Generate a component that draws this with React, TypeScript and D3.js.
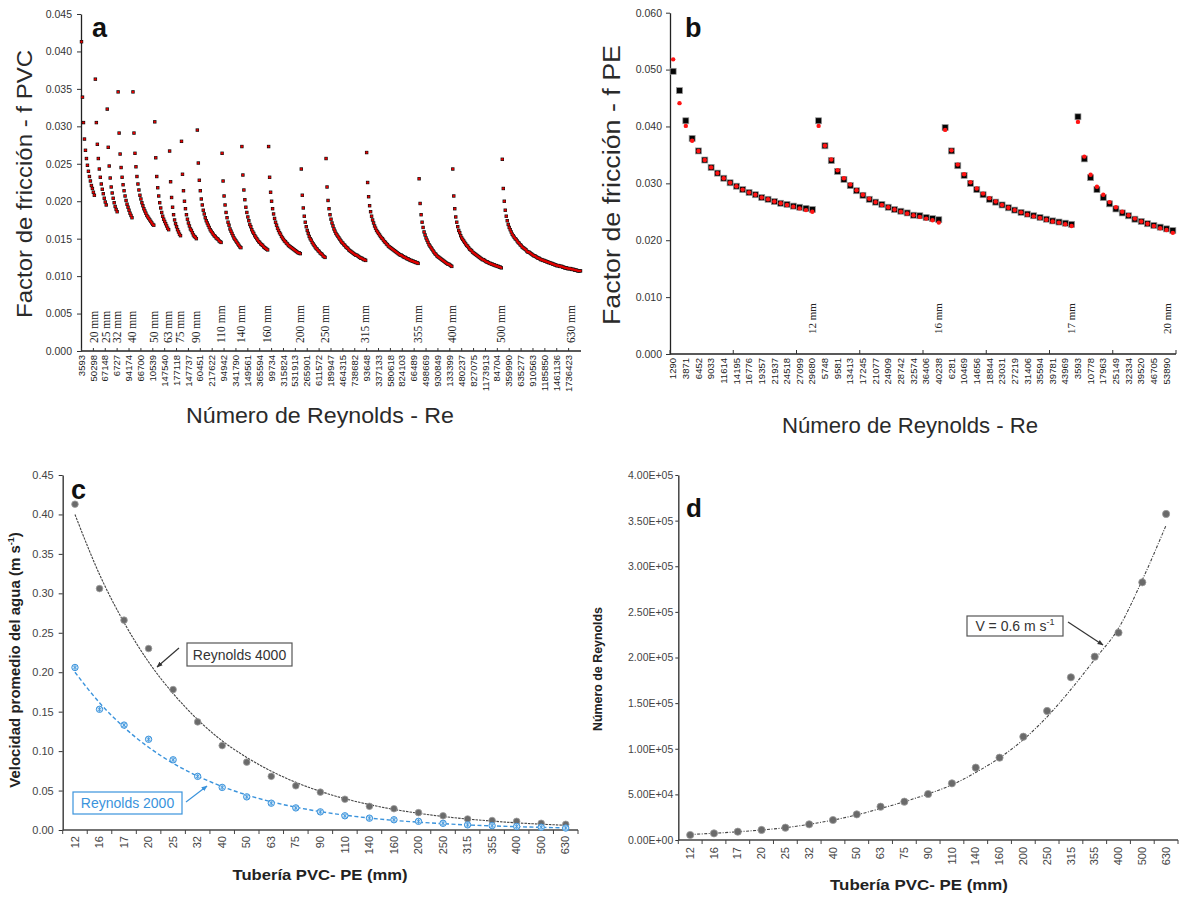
import React, { useEffect, useRef } from 'react';
import * as d3 from 'd3';

const W = 1183;
const H = 897;
const sans = '"Liberation Sans", Arial, sans-serif';
const serif = '"Liberation Serif", "Times New Roman", serif';

// ---- a: factor de friccion PVC (x 1e-4), one list per pipe, in plotting order
const pvcPipes = ['20 mm', '25 mm', '32 mm', '40 mm', '50 mm', '63 mm', '75 mm', '90 mm', '110 mm', '140 mm', '160 mm', '200 mm', '250 mm', '315 mm', '355 mm', '400 mm', '500 mm', '630 mm'];
const fPVC = [
  [413, 339, 305, 283, 268, 257, 248, 240, 233, 227, 221, 217, 212, 208],
  [363, 305, 276, 257, 243, 232, 223, 216, 210, 204, 199, 195],
  [323, 272, 247, 231, 219, 211, 204, 198, 193, 189, 186],
  [346, 291, 263, 245, 232, 222, 214, 207, 201, 196, 192, 188, 184, 181, 178],
  [346, 291, 264, 246, 233, 223, 215, 208, 203, 198, 194, 190, 187, 184, 181, 179, 177, 175, 173, 171, 169, 168],
  [306, 258, 233, 218, 207, 198, 191, 185, 180, 176, 173, 170, 167, 164, 162],
  [267, 226, 205, 192, 182, 175, 170, 166, 162, 159, 156, 154],
  [280, 236, 214, 200, 190, 182, 176, 171, 167, 163, 161, 158, 155, 153, 152, 150],
  [295, 251, 228, 214, 203, 195, 188, 183, 178, 174, 171, 168, 165, 162, 160, 158, 156, 154, 153, 151, 150, 149, 147, 146, 145],
  [264, 227, 207, 195, 185, 178, 172, 168, 163, 160, 157, 154, 151, 149, 147, 145, 143, 141, 139, 138],
  [273, 235, 215, 202, 192, 185, 179, 174, 169, 166, 162, 159, 157, 154, 152, 150, 148, 146, 145, 143, 142, 141, 139, 138, 137, 136, 135],
  [273, 232, 212, 200, 190, 183, 177, 172, 168, 164, 161, 158, 156, 153, 151, 149, 147, 146, 144, 143, 141, 140, 139, 138, 137, 136, 135, 134, 133, 132, 131, 131, 130],
  [243, 208, 191, 180, 172, 166, 161, 157, 153, 150, 148, 145, 143, 141, 139, 137, 136, 134, 133, 131, 130, 129, 127, 126, 125],
  [257, 219, 201, 190, 182, 176, 171, 167, 163, 160, 157, 155, 153, 151, 149, 147, 145, 144, 142, 141, 139, 138, 137, 135, 134, 133, 132, 131, 130, 129, 128, 128, 127, 126, 125, 124, 124, 123, 122, 122, 121],
  [265, 225, 206, 194, 186, 180, 175, 171, 167, 164, 161, 159, 157, 155, 153, 151, 150, 148, 146, 145, 143, 142, 140, 139, 138, 137, 136, 135, 134, 133, 132, 131, 130, 129, 128, 128, 127, 126, 125, 125, 124, 123, 123, 122, 121, 121, 120, 120, 119, 119, 118, 118, 117],
  [230, 197, 182, 172, 165, 159, 155, 151, 148, 145, 142, 140, 138, 136, 134, 132, 130, 129, 127, 126, 125, 124, 123, 122, 121, 120, 119, 118, 117, 116, 116, 115, 114, 113],
  [243, 207, 190, 179, 172, 166, 161, 158, 154, 151, 149, 147, 145, 143, 141, 140, 138, 136, 135, 134, 132, 131, 130, 129, 128, 127, 126, 125, 124, 123, 122, 122, 121, 120, 119, 119, 118, 117, 117, 116, 116, 115, 115, 114, 114, 113, 113, 112, 112, 111],
  [256, 217, 200, 188, 180, 174, 169, 165, 162, 159, 156, 154, 152, 150, 149, 147, 145, 144, 142, 141, 139, 138, 137, 136, 135, 133, 132, 132, 131, 130, 129, 128, 127, 127, 126, 125, 124, 124, 123, 122, 122, 121, 121, 120, 120, 119, 119, 118, 118, 117, 117, 116, 116, 115, 115, 114, 114, 114, 113, 113, 113, 112, 112, 111, 111, 111, 110, 110, 110, 110, 109, 109, 109, 108, 108, 108, 107, 107, 107, 107]
];
const reLabelsPVC = ['3593', '50298', '67148', '6727', '94174', '66700', '10539', '147540', '177118', '147737', '60451', '217622', '94942', '341790', '149561', '365594', '99734', '315824', '531913', '265901', '611572', '189947', '464315', '738682', '93648', '337133', '580618', '824103', '66489', '498669', '930849', '133399', '480237', '827075', '1173913', '84704', '359990', '635277', '910563', '1185850', '1461136', '1736423'];

// ---- b: factor de friccion PE (x 1e-4), squares and dots
const pePipes = ['12 mm', '16 mm', '17 mm', '20 mm'];
const fPEsq = [
  [497, 463, 410, 379, 357, 341, 328, 318, 309, 301, 295, 289, 284, 280, 275, 272, 268, 265, 263, 260, 258, 256, 254],
  [410, 366, 340, 321, 307, 296, 287, 279, 272, 267, 263, 258, 254, 251, 248, 244, 243, 240, 238, 236],
  [398, 357, 331, 314, 300, 289, 280, 272, 267, 262, 257, 253, 249, 246, 243, 240, 237, 234, 232, 230, 228],
  [417, 343, 310, 289, 275, 264, 255, 248, 243, 237, 233, 229, 226, 223, 220, 217]
];
const fPEdot = [
  [518, 441, 401, 375, 357, 341, 328, 318, 309, 301, 295, 289, 284, 280, 275, 272, 268, 265, 262, 259, 256, 253, 250],
  [401, 366, 342, 323, 309, 298, 288, 280, 273, 267, 262, 258, 254, 250, 247, 244, 241, 238, 235, 231],
  [394, 358, 333, 316, 302, 291, 282, 274, 268, 262, 257, 253, 249, 245, 242, 239, 236, 233, 231, 228, 225],
  [408, 347, 315, 294, 280, 267, 258, 250, 244, 238, 233, 229, 225, 221, 218, 213]
];
const reLabelsPE = ['1290', '3871', '6452', '9033', '11614', '14195', '16776', '19357', '21937', '24518', '27099', '29680', '5748', '9581', '13413', '17245', '21077', '24909', '28742', '32574', '36406', '40238', '6281', '10469', '14656', '18844', '23031', '27219', '31406', '35594', '39781', '43969', '3593', '10778', '17963', '25149', '32334', '39520', '46705', '53890'];

// ---- c, d
const tuberias = ['12', '16', '17', '20', '25', '32', '40', '50', '63', '75', '90', '110', '140', '160', '200', '250', '315', '355', '400', '500', '630'];
const velRe4000 = [0.413, 0.306, 0.266, 0.23, 0.178, 0.137, 0.107, 0.086, 0.068, 0.056, 0.048, 0.039, 0.03, 0.027, 0.022, 0.018, 0.014, 0.012, 0.011, 0.0085, 0.0072];
const velRe2000 = [0.206, 0.153, 0.133, 0.115, 0.089, 0.068, 0.054, 0.042, 0.034, 0.028, 0.023, 0.018, 0.015, 0.013, 0.011, 0.0085, 0.0065, 0.0055, 0.0045, 0.0035, 0.0025];
const trendRe4000 = [0.4, 0.324, 0.263, 0.213, 0.173, 0.14, 0.113, 0.092, 0.0746, 0.0604, 0.049, 0.0397, 0.0322, 0.0261, 0.0212, 0.0171, 0.0139, 0.0113, 0.0091, 0.0074, 0.006];
const trendRe2000 = [0.2, 0.1613, 0.1301, 0.1049, 0.0846, 0.0683, 0.0551, 0.0444, 0.0358, 0.0289, 0.0233, 0.0188, 0.0152, 0.0122, 0.0099, 0.008, 0.0064, 0.0052, 0.0042, 0.0034, 0.0027];
const reynoldsV06 = [5500, 7300, 9100, 11000, 13500, 17200, 21900, 28100, 36500, 42000, 50400, 62100, 79300, 90200, 113200, 141400, 178300, 200900, 227200, 282400, 357300];
const trendV06 = [6000, 7400, 9000, 11000, 13500, 17200, 21800, 27500, 34500, 42000, 50500, 60500, 74000, 90000, 110000, 135000, 165000, 198000, 232000, 285000, 345000];

const styleAxis = (sel: any, size: number) => {
  sel.attr('font-family', sans).attr('font-size', size);
  sel.selectAll('text').attr('fill', '#333');
  sel.selectAll('line').attr('stroke', '#333');
  sel.select('.domain').attr('stroke', '#222').attr('stroke-width', 1.3);
};

const vText = (g: any, x: number, y: number, txt: string, anchor: string, size: number, family = sans) =>
  g.append('text')
    .attr('transform', `translate(${x},${y}) rotate(-90)`)
    .attr('text-anchor', anchor)
    .attr('dy', '0.33em')
    .attr('font-family', family)
    .attr('font-size', size)
    .attr('fill', '#333')
    .text(txt);

const title = (g: any, x: number, y: number, txt: string, size: number, len: number, rotate: boolean, bold = false) =>
  g.append('text')
    .attr('transform', `translate(${x},${y})${rotate ? ' rotate(-90)' : ''}`)
    .attr('text-anchor', 'middle')
    .attr('font-family', sans)
    .attr('font-size', size)
    .attr('font-weight', bold ? 700 : 400)
    .attr('fill', bold ? '#222' : '#2a2a2a')
    .attr('textLength', len)
    .attr('lengthAdjust', 'spacingAndGlyphs')
    .text(txt);

const letter = (g: any, x: number, y: number, txt: string, size: number) =>
  g.append('text').attr('x', x).attr('y', y).attr('font-family', sans).attr('font-weight', 700)
    .attr('font-size', size).attr('fill', '#111').text(txt);

function drawA(svg: any) {
  const g = svg.append('g');
  const pts = fPVC.flatMap((arr, gi) => arr.map((v) => ({ gi, f: v / 1e4 })));
  const n = pts.length;
  const x = d3.scaleLinear().domain([-0.5, n - 0.5]).range([81, 581]);
  const y = d3.scaleLinear().domain([0, 0.045]).range([351, 14]);

  g.append('g').attr('transform', 'translate(81,0)')
    .call(d3.axisLeft(y).tickValues(d3.range(10).map((i) => i * 0.005)).tickFormat(d3.format('.3f')).tickSizeInner(4).tickSizeOuter(0).tickPadding(5))
    .call((s: any) => styleAxis(s, 10.5));

  g.append('line').attr('x1', 81).attr('x2', 581).attr('y1', 351).attr('y2', 351).attr('stroke', '#222').attr('stroke-width', 1.3);
  reLabelsPVC.forEach((lab, k) => {
    const cx = x(k * 12);
    g.append('line').attr('x1', cx).attr('x2', cx).attr('y1', 348).attr('y2', 351).attr('stroke', '#333');
    vText(g, cx, 355, lab, 'end', 9.5).attr('fill', '#222');
  });

  // pipe labels at the end of each run
  let c = 0;
  fPVC.forEach((arr, gi) => {
    c += arr.length;
    vText(g, Math.min(x(c - 1), 571), 343, pvcPipes[gi], 'start', 11.5, serif).attr('fill', '#222');
  });

  g.append('g').selectAll('rect').data(pts).enter().append('rect')
    .attr('x', (_: any, i: number) => x(i) - 1.7).attr('y', (d: any) => y(d.f) - 1.7)
    .attr('width', 3.4).attr('height', 3.4).attr('fill', '#111');
  g.append('g').selectAll('circle').data(pts).enter().append('circle')
    .attr('cx', (_: any, i: number) => x(i)).attr('cy', (d: any) => y(d.f)).attr('r', 1.2).attr('fill', '#e00000');

  letter(g, 92, 37, 'a', 27);
  title(g, 32, 184, 'Factor de fricción - f PVC', 22, 268, true);
  title(g, 320, 423, 'Número de Reynolds - Re', 22, 268, false);
}

function drawB(svg: any) {
  const g = svg.append('g');
  const sq = fPEsq.flatMap((arr, gi) => arr.map((v) => ({ gi, f: v / 1e4 })));
  const dots = fPEdot.flatMap((arr, gi) => arr.map((v) => ({ gi, f: v / 1e4 })));
  const n = sq.length;
  const x = d3.scaleLinear().domain([-0.5, n - 0.5]).range([670, 1176]);
  const y = d3.scaleLinear().domain([0, 0.06]).range([354, 12.7]);

  g.append('g').attr('transform', 'translate(670,0)')
    .call(d3.axisLeft(y).tickValues(d3.range(7).map((i) => i * 0.01)).tickFormat(d3.format('.3f')).tickSizeInner(4).tickSizeOuter(0).tickPadding(4))
    .call((s: any) => styleAxis(s, 10.5));

  g.append('line').attr('x1', 670).attr('x2', 1176).attr('y1', 354).attr('y2', 354).attr('stroke', '#222').attr('stroke-width', 1.3);
  d3.range(0, n + 1, 10).forEach((k) => {
    const tx = x(k - 0.5);
    g.append('line').attr('x1', tx).attr('x2', tx).attr('y1', 350).attr('y2', 354).attr('stroke', '#333');
  });
  reLabelsPE.forEach((lab, k) => vText(g, x(k * 2), 358, lab, 'end', 9.5).attr('fill', '#222'));

  let c = 0;
  fPEsq.forEach((arr, gi) => {
    c += arr.length;
    vText(g, Math.min(x(c - 1), 1167), 334, pePipes[gi], 'start', 11, serif).attr('fill', '#222');
  });

  g.append('g').selectAll('rect').data(sq).enter().append('rect')
    .attr('x', (_: any, i: number) => x(i) - 3).attr('y', (d: any) => y(d.f) - 3)
    .attr('width', 6).attr('height', 6).attr('fill', '#050505').attr('stroke', '#9a9a9a').attr('stroke-width', 0.7);
  g.append('g').selectAll('circle').data(dots).enter().append('circle')
    .attr('cx', (_: any, i: number) => x(i)).attr('cy', (d: any) => y(d.f)).attr('r', 2.2).attr('fill', '#ff1414');

  letter(g, 685, 37, 'b', 27);
  title(g, 620, 185, 'Factor de fricción - f PE', 23, 280, true);
  title(g, 910, 433, 'Número de Reynolds - Re', 22, 256, false);
}

function bandAxis(g: any, x: any, y0: number, labelY: number) {
  const [r0, r1] = x.range();
  g.append('line').attr('x1', r0).attr('x2', r1).attr('y1', y0).attr('y2', y0).attr('stroke', '#444').attr('stroke-width', 1.5);
  d3.range(tuberias.length + 1).forEach((k) => {
    const tx = r0 + k * x.step();
    g.append('line').attr('x1', tx).attr('x2', tx).attr('y1', y0).attr('y2', y0 + 4).attr('stroke', '#444');
  });
  tuberias.forEach((t) => vText(g, x(t) + x.bandwidth() / 2, labelY, t, 'end', 11).attr('fill', '#444'));
}

function drawC(svg: any) {
  const g = svg.append('g');
  const x = d3.scaleBand().domain(tuberias).range([62.7, 578]);
  const y = d3.scaleLinear().domain([0, 0.45]).range([830, 475]);
  const cx = (i: number) => (x(tuberias[i]) as number) + x.bandwidth() / 2;

  g.append('g').attr('transform', 'translate(62.7,0)')
    .call(d3.axisLeft(y).tickValues(d3.range(10).map((i) => i * 0.05)).tickFormat(d3.format('.2f')).tickSizeInner(4).tickSizeOuter(0).tickPadding(5))
    .call((s: any) => { styleAxis(s, 11); s.select('.domain').attr('stroke', '#444').attr('stroke-width', 1.5); s.selectAll('text').attr('fill', '#444'); });
  bandAxis(g, x, 830, 836);

  const line = d3.line<number>().x((_, i) => cx(i)).y((v) => y(v)).curve(d3.curveMonotoneX);
  g.append('path').attr('d', line(trendRe4000)).attr('fill', 'none').attr('stroke', '#444').attr('stroke-width', 1.1).attr('stroke-dasharray', '2.5,1');
  g.append('path').attr('d', line(trendRe2000)).attr('fill', 'none').attr('stroke', '#3a93dc').attr('stroke-width', 1.4).attr('stroke-dasharray', '4,2.5');

  g.append('g').selectAll('circle').data(velRe4000).enter().append('circle')
    .attr('cx', (_: any, i: number) => cx(i)).attr('cy', (d: number) => y(d)).attr('r', 3.3)
    .attr('fill', '#6a6a6a').attr('stroke', '#a0a0a0').attr('stroke-width', 0.8);
  const blue = g.append('g').selectAll('g').data(velRe2000).enter().append('g')
    .attr('transform', (d: number, i: number) => `translate(${cx(i)},${y(d)})`);
  blue.append('circle').attr('r', 3.2).attr('fill', '#d4e8f8').attr('stroke', '#3a93dc').attr('stroke-width', 1);
  blue.append('path').attr('d', 'M-2,-2L2,2M-2,2L2,-2M0,-2.6V2.6').attr('stroke', '#3a93dc').attr('stroke-width', 0.8);

  // annotations
  g.append('rect').attr('x', 187).attr('y', 643).attr('width', 105).attr('height', 23).attr('fill', '#fff').attr('stroke', '#555').attr('stroke-width', 1.2);
  g.append('text').attr('x', 239.5).attr('y', 659.5).attr('text-anchor', 'middle').attr('font-family', sans).attr('font-size', 14).attr('fill', '#333').text('Reynolds  4000');
  g.append('line').attr('x1', 179).attr('y1', 648).attr('x2', 157).attr('y2', 667).attr('stroke', '#333').attr('stroke-width', 1.2).attr('marker-end', 'url(#arrGray)');
  g.append('rect').attr('x', 73).attr('y', 792).attr('width', 109).attr('height', 22).attr('fill', '#fff').attr('stroke', '#3a93dc').attr('stroke-width', 1.2);
  g.append('text').attr('x', 127.5).attr('y', 808).attr('text-anchor', 'middle').attr('font-family', sans).attr('font-size', 14).attr('fill', '#3a93dc').text('Reynolds  2000');
  g.append('line').attr('x1', 186).attr('y1', 802).attr('x2', 207).attr('y2', 786).attr('stroke', '#3a93dc').attr('stroke-width', 1.2).attr('marker-end', 'url(#arrBlue)');

  letter(g, 71, 499, 'c', 27);
  const yt = g.append('text').attr('transform', 'translate(20,660) rotate(-90)').attr('text-anchor', 'middle')
    .attr('font-family', sans).attr('font-size', 15).attr('font-weight', 700).attr('fill', '#222');
  yt.append('tspan').text('Velocidad promedio del agua (m s');
  yt.append('tspan').attr('font-size', 9).attr('dy', -6).text('-1');
  yt.append('tspan').attr('dy', 6).text(')');
  title(g, 320, 880, 'Tubería PVC- PE (mm)', 15, 175, false, true);
}

const sciFmt = (v: number) => {
  if (v === 0) return '0.00E+00';
  const e = Math.floor(Math.log10(v));
  return `${(v / Math.pow(10, e)).toFixed(2)}E+${String(e).padStart(2, '0')}`;
};

function drawD(svg: any) {
  const g = svg.append('g');
  const x = d3.scaleBand().domain(tuberias).range([678.3, 1178]);
  const y = d3.scaleLinear().domain([0, 400000]).range([840, 475]);
  const cx = (i: number) => (x(tuberias[i]) as number) + x.bandwidth() / 2;

  g.append('g').attr('transform', 'translate(678.3,0)')
    .call(d3.axisLeft(y).tickValues(d3.range(9).map((i) => i * 50000)).tickFormat(sciFmt as any).tickSizeInner(3).tickSizeOuter(0).tickPadding(2))
    .call((s: any) => { styleAxis(s, 10.5); s.select('.domain').attr('stroke', '#444').attr('stroke-width', 1.5); s.selectAll('text').attr('fill', '#444'); });
  bandAxis(g, x, 840, 847);

  const line = d3.line<number>().x((_, i) => cx(i)).y((v) => y(v)).curve(d3.curveMonotoneX);
  g.append('path').attr('d', line(trendV06)).attr('fill', 'none').attr('stroke', '#444').attr('stroke-width', 1.1).attr('stroke-dasharray', '3,1.5,1,1.5');

  g.append('g').selectAll('circle').data(reynoldsV06).enter().append('circle')
    .attr('cx', (_: any, i: number) => cx(i)).attr('cy', (d: number) => y(d)).attr('r', 3.6)
    .attr('fill', '#6a6a6a').attr('stroke', '#9c9c9c').attr('stroke-width', 0.8);

  g.append('rect').attr('x', 967).attr('y', 616).attr('width', 96).attr('height', 20).attr('fill', '#fff').attr('stroke', '#555').attr('stroke-width', 1.2);
  const vt = g.append('text').attr('x', 1015).attr('y', 631).attr('text-anchor', 'middle').attr('font-family', sans).attr('font-size', 14).attr('fill', '#333');
  vt.append('tspan').text('V = 0.6 m s');
  vt.append('tspan').attr('font-size', 9).attr('dy', -6).text('-1');
  g.append('line').attr('x1', 1068).attr('y1', 622).attr('x2', 1103).attr('y2', 645).attr('stroke', '#333').attr('stroke-width', 1.2).attr('marker-end', 'url(#arrGray)');

  letter(g, 686, 517, 'd', 26);
  title(g, 602, 669, 'Número de Reynolds', 13, 124, true, true);
  title(g, 919, 890, 'Tubería PVC- PE (mm)', 15, 178, false, true);
}

const App = () => {
  const ref = useRef<SVGSVGElement>(null);

  useEffect(() => {
    const svg = d3.select(ref.current);
    svg.selectAll('*').remove();
    const defs = svg.append('defs');
    [['arrGray', '#333'], ['arrBlue', '#3a93dc']].forEach(([id, col]) => {
      defs.append('marker').attr('id', id).attr('viewBox', '0 0 10 10').attr('refX', 9).attr('refY', 5)
        .attr('markerWidth', 5).attr('markerHeight', 5).attr('orient', 'auto')
        .append('path').attr('d', 'M0,1L10,5L0,9z').attr('fill', col);
    });
    drawA(svg);
    drawB(svg);
    drawC(svg);
    drawD(svg);
  }, []);

  return (
    <svg ref={ref} width={W} height={H} style={{ position: 'absolute', left: 0, top: 0, background: '#fff' }} />
  );
};

export default App;
